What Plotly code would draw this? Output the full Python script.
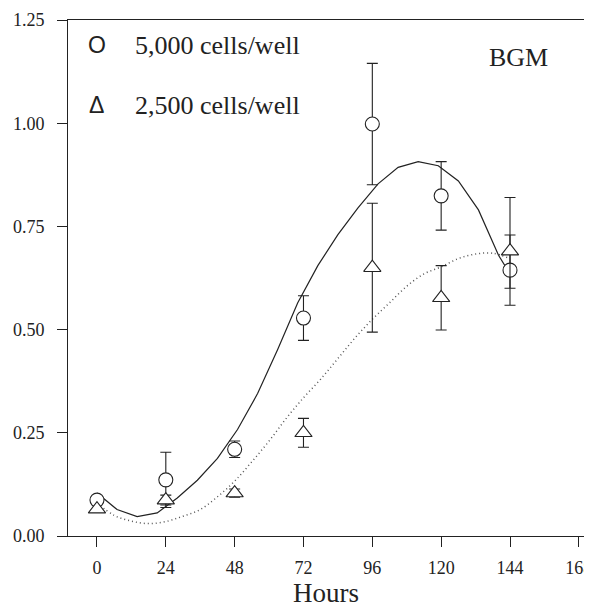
import plotly.graph_objects as go

# ---- data ----
hours = [0, 24, 48, 72, 96, 120, 144]
y5000 = [0.087, 0.136, 0.21, 0.528, 0.998, 0.824, 0.644]
err5000_up = [0.0, 0.067, 0.02, 0.054, 0.147, 0.083, 0.085]
err5000_dn = [0.0, 0.067, 0.02, 0.054, 0.147, 0.083, 0.085]
y2500 = [0.065, 0.087, 0.104, 0.25, 0.65, 0.577, 0.69]
err2500_up = [0.0, 0.012, 0.01, 0.035, 0.156, 0.078, 0.13]
err2500_dn = [0.0, 0.012, 0.01, 0.035, 0.156, 0.078, 0.09]

fit5000_x = [0, 7, 14, 21, 28, 35, 42, 49, 56, 63, 70, 77, 84, 91, 98, 105, 112, 119, 126, 133, 140, 144]
fit5000_y = [0.104, 0.064, 0.047, 0.056, 0.092, 0.135, 0.188, 0.258, 0.345, 0.452, 0.565, 0.655,
             0.73, 0.795, 0.853, 0.893, 0.907, 0.897, 0.86, 0.79, 0.68, 0.635]

fit2500_x = [0, 6, 12, 18, 24, 30, 36, 42, 48, 54, 60, 66, 72, 78, 84, 90, 96, 102, 108, 114, 120, 126, 132, 138, 144]
fit2500_y = [0.08, 0.05, 0.036, 0.03, 0.035, 0.048, 0.064, 0.095, 0.133, 0.18, 0.23, 0.285, 0.335,
             0.38, 0.43, 0.48, 0.525, 0.565, 0.605, 0.635, 0.652, 0.672, 0.683, 0.685, 0.672]

x_ticks = [0, 24, 48, 72, 96, 120, 144, 168]
y_ticks = [0.0, 0.25, 0.5, 0.75, 1.0, 1.25]
y_ticklabels = ["0.00", "0.25", "0.50", "0.75", "1.00", "1.25"]

SERIF = "Liberation Serif, Times New Roman, serif"
INK = "#222222"

fig = go.Figure()

fig.add_trace(go.Scatter(x=fit5000_x, y=fit5000_y, mode="lines",
                         line=dict(color=INK, width=1.2), hoverinfo="skip", showlegend=False))
fig.add_trace(go.Scatter(x=fit2500_x, y=fit2500_y, mode="lines",
                         line=dict(color="#555555", width=1.5, dash="1px,3px", shape="spline"),
                         hoverinfo="skip", showlegend=False))

fig.add_trace(go.Scatter(
    x=hours, y=y5000, mode="markers", showlegend=False,
    marker=dict(symbol="circle", size=14, color="white", line=dict(color=INK, width=1.1)),
    error_y=dict(type="data", symmetric=False, array=err5000_up, arrayminus=err5000_dn,
                 color=INK, thickness=1.1, width=5.5)))
fig.add_trace(go.Scatter(
    x=hours, y=y2500, mode="markers", showlegend=False,
    marker=dict(symbol="triangle-up", size=15, color="white", line=dict(color=INK, width=1.1)),
    error_y=dict(type="data", symmetric=False, array=err2500_up, arrayminus=err2500_dn,
                 color=INK, thickness=1.1, width=5.5)))

axis_common = dict(showline=True, linecolor=INK, linewidth=1, mirror=True, showgrid=False,
                   zeroline=False, ticks="outside", ticklen=10, tickcolor=INK, tickwidth=1,
                   automargin=False, ticklabeloverflow="allow",
                   tickfont=dict(family=SERIF, size=18, color=INK))

fig.update_xaxes(range=[-10.1, 169.8], tickvals=x_ticks, ticktext=[str(v) for v in x_ticks],
                 title=dict(text="Hours", font=dict(family=SERIF, size=27, color=INK), standoff=2),
                 ticklabelstandoff=5, **axis_common)
fig.update_yaxes(range=[0, 1.25], tickvals=y_ticks, ticktext=y_ticklabels,
                 ticklabelstandoff=9, **axis_common)

annots = [
    dict(x=0.056, y=0.951, text="O", font=dict(family="Liberation Sans, Arial, sans-serif", size=23, color=INK),
         xanchor="center"),
    dict(x=0.126, y=0.951, text="5,000 cells/well", font=dict(family=SERIF, size=26, color=INK),
         xanchor="left"),
    dict(x=0.056, y=0.835, text="Δ", font=dict(family="Liberation Sans, Arial, sans-serif", size=23, color=INK),
         xanchor="center"),
    dict(x=0.126, y=0.835, text="2,500 cells/well", font=dict(family=SERIF, size=26, color=INK),
         xanchor="left"),
    dict(x=0.874, y=0.928, text="BGM", font=dict(family=SERIF, size=26, color=INK),
         xanchor="center"),
]
for a in annots:
    fig.add_annotation(xref="paper", yref="paper", yanchor="middle", showarrow=False, **a)

# the page body adds an 8px offset, so the figure is 8px smaller and margins shifted
fig.update_layout(width=584, height=601, margin=dict(l=60, r=8, t=12, b=73),
                  paper_bgcolor="white", plot_bgcolor="white", showlegend=False)

fig.write_html("out.html")
